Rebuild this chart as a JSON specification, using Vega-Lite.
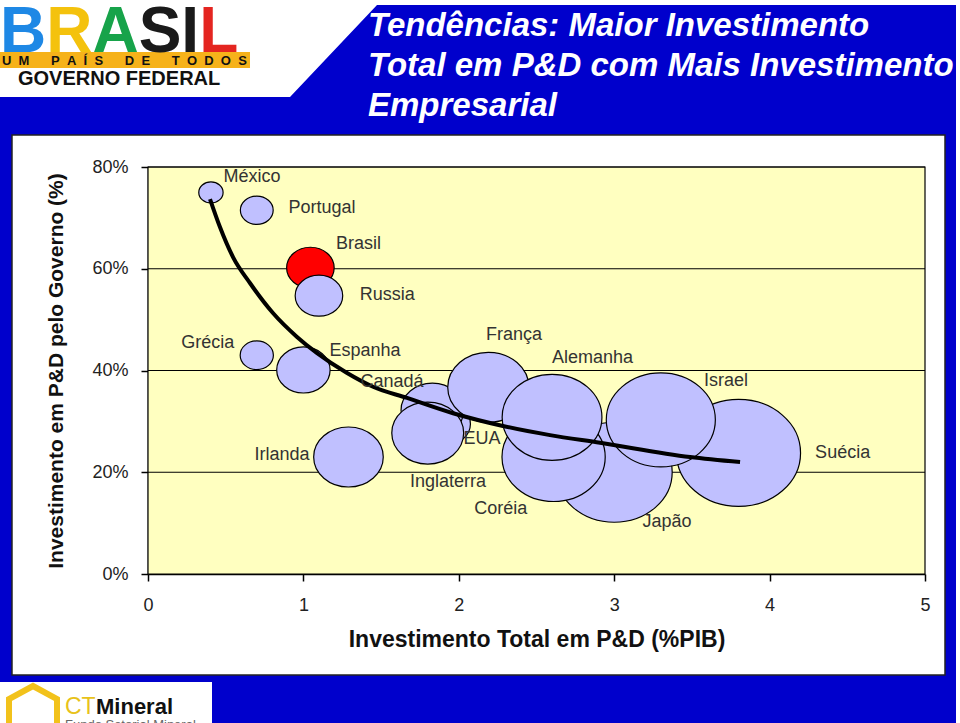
{
  "$schema": "https://vega.github.io/schema/vega-lite/v6.json",
  "width": 777,
  "height": 407,
  "autosize": {"type": "none"},
  "padding": {"left": 148, "top": 167, "right": 35, "bottom": 149},
  "background": "white",
  "title": {
    "text": ["Tendências: Maior Investimento", "Total em P&D com Mais Investimento", "Empresarial"],
    "anchor": "start",
    "frame": "group",
    "dx": 220,
    "offset": -148,
    "baseline": "alphabetic",
    "font": "Liberation Sans",
    "fontSize": 33,
    "fontWeight": "bold",
    "fontStyle": "italic",
    "color": "white",
    "lineHeight": 40
  },
  "config": {"view": {"stroke": null}, "font": "Liberation Sans"},
  "datasets": {
    "paises": [
      {"pais": "Japão", "pd_total": 3.0, "pd_gov": 20.0, "tamanho": 2500, "rot_x": 3.34, "rot_y": 10.3},
      {"pais": "Suécia", "pd_total": 3.8, "pd_gov": 23.8, "tamanho": 2860, "rot_x": 4.47, "rot_y": 23.7},
      {"pais": "Coréia", "pd_total": 2.61, "pd_gov": 23.0, "tamanho": 1980, "rot_x": 2.27, "rot_y": 12.8},
      {"pais": "Israel", "pd_total": 3.3, "pd_gov": 30.3, "tamanho": 2210, "rot_x": 3.72, "rot_y": 37.9},
      {"pais": "EUA", "pd_total": 1.92, "pd_gov": 29.5, "tamanho": 430, "rot_x": 2.15, "rot_y": 26.6},
      {"pais": "Canadá", "pd_total": 1.83, "pd_gov": 32.2, "tamanho": 730, "rot_x": 1.57, "rot_y": 37.7},
      {"pais": "França", "pd_total": 2.19, "pd_gov": 36.7, "tamanho": 1225, "rot_x": 2.355, "rot_y": 47.0},
      {"pais": "Alemanha", "pd_total": 2.6, "pd_gov": 30.8, "tamanho": 1850, "rot_x": 2.86, "rot_y": 42.5},
      {"pais": "Inglaterra", "pd_total": 1.8, "pd_gov": 27.7, "tamanho": 960, "rot_x": 1.93, "rot_y": 18.1},
      {"pais": "Irlanda", "pd_total": 1.29, "pd_gov": 23.0, "tamanho": 900, "rot_x": 0.862, "rot_y": 23.4},
      {"pais": "Espanha", "pd_total": 1.0, "pd_gov": 40.1, "tamanho": 530, "rot_x": 1.396, "rot_y": 43.8},
      {"pais": "Grécia", "pd_total": 0.7, "pd_gov": 43.0, "tamanho": 205, "rot_x": 0.385, "rot_y": 45.5},
      {"pais": "Brasil", "pd_total": 1.045, "pd_gov": 60.2, "tamanho": 420, "rot_x": 1.355, "rot_y": 64.9},
      {"pais": "Russia", "pd_total": 1.1, "pd_gov": 54.7, "tamanho": 420, "rot_x": 1.54, "rot_y": 54.8},
      {"pais": "Portugal", "pd_total": 0.7, "pd_gov": 71.5, "tamanho": 200, "rot_x": 1.12, "rot_y": 71.9},
      {"pais": "México", "pd_total": 0.405, "pd_gov": 75.0, "tamanho": 110, "rot_x": 0.67, "rot_y": 78.1}
    ],
    "tendencia": [
      {"x": 0.399, "y": 73.7}, {"x": 0.463, "y": 68.2}, {"x": 0.547, "y": 62.3}, {"x": 0.656, "y": 57.2},
      {"x": 0.804, "y": 51.3}, {"x": 0.959, "y": 46.6}, {"x": 1.088, "y": 43.4}, {"x": 1.281, "y": 39.5},
      {"x": 1.448, "y": 36.8}, {"x": 1.667, "y": 34.6}, {"x": 1.963, "y": 31.6}, {"x": 2.284, "y": 29.1},
      {"x": 2.587, "y": 27.3}, {"x": 2.909, "y": 25.8}, {"x": 3.488, "y": 23.0}, {"x": 3.81, "y": 22.0}
    ],
    "grade": [{"g": 20}, {"g": 40}, {"g": 60}, {"g": 80}]
  },
  "layer": [
    {
      "data": {"values": [{}]},
      "mark": {"type": "point", "shape": "M0,97L290,97L377,5L956,5L956,723L212,723L212,682L0,682Z M12,135L12,675L945,675L945,135Z", "size": 4, "filled": true, "fill": "#0000CC", "strokeWidth": 0, "opacity": 1},
      "encoding": {
        "x": {"datum": -0.95238, "type": "quantitative", "scale": {"domain": [0, 5], "nice": false, "zero": false}},
        "y": {"datum": 112.826, "type": "quantitative", "scale": {"domain": [0, 80], "nice": false, "zero": false}}
      }
    },
    {
      "data": {"values": [{}]},
      "mark": {"type": "rect", "fillOpacity": 0, "stroke": "#222", "strokeWidth": 1.5},
      "encoding": {
        "x": {"datum": -0.8752, "type": "quantitative"},
        "x2": {"datum": 5.1287},
        "y": {"datum": 86.29, "type": "quantitative"},
        "y2": {"datum": -19.853}
      }
    },
    {
      "data": {"values": [{}]},
      "mark": {"type": "rect", "fill": "#F6B21A"},
      "encoding": {
        "x": {"datum": -0.95238, "type": "quantitative"},
        "x2": {"datum": 0.6564},
        "y": {"datum": 102.6, "type": "quantitative"},
        "y2": {"datum": 99.46}
      }
    },
    {
      "data": {"values": [{}]},
      "mark": {
        "type": "text", "text": "BRASIL", "align": "left", "baseline": "alphabetic", "font": "Liberation Sans", "fontSize": 64, "fontWeight": "bold",
        "fill": {"gradient": "linear", "x1": 0, "y1": 0, "x2": 1, "y2": 0, "stops": [
          {"offset": 0, "color": "#1E88E5"}, {"offset": 0.19, "color": "#1E88E5"},
          {"offset": 0.19, "color": "#F4C20D"}, {"offset": 0.385, "color": "#F4C20D"},
          {"offset": 0.385, "color": "#17A34A"}, {"offset": 0.58, "color": "#17A34A"},
          {"offset": 0.58, "color": "#1A1A1A"}, {"offset": 0.84, "color": "#1A1A1A"},
          {"offset": 0.84, "color": "#E42520"}, {"offset": 1, "color": "#E42520"}]}
      },
      "encoding": {
        "x": {"datum": -0.95238, "type": "quantitative"},
        "y": {"datum": 102.6, "type": "quantitative"}
      }
    },
    {
      "data": {"values": [{}]},
      "mark": {"type": "text", "text": "U\u00a0\u00a0M\u00a0\u00a0\u00a0\u00a0\u00a0\u00a0P\u00a0\u00a0A\u00a0\u00a0Í\u00a0\u00a0S\u00a0\u00a0\u00a0\u00a0\u00a0\u00a0D\u00a0\u00a0E\u00a0\u00a0\u00a0\u00a0\u00a0\u00a0T\u00a0\u00a0O\u00a0\u00a0D\u00a0\u00a0O\u00a0\u00a0S", "align": "left", "baseline": "middle", "fontSize": 13, "fontWeight": "bold", "fill": "#111"},
      "encoding": {
        "x": {"datum": -0.9395, "type": "quantitative"},
        "y": {"datum": 100.8, "type": "quantitative"}
      }
    },
    {
      "data": {"values": [{}]},
      "mark": {"type": "text", "text": "GOVERNO FEDERAL", "align": "left", "baseline": "alphabetic", "fontSize": 20, "fontWeight": "bold", "fill": "#111"},
      "encoding": {
        "x": {"datum": -0.8366, "type": "quantitative"},
        "y": {"datum": 96.12, "type": "quantitative"}
      }
    },
    {
      "data": {"values": [{}]},
      "mark": {"type": "point", "shape": "M9,45L9,20L33,7L57,20L57,45", "size": 4, "filled": false, "stroke": "#F2C21B", "strokeWidth": 6, "opacity": 1},
      "encoding": {
        "x": {"datum": -0.95238, "type": "quantitative"},
        "y": {"datum": -20.64, "type": "quantitative"}
      }
    },
    {
      "data": {"values": [{}]},
      "mark": {"type": "text", "text": "CT", "align": "left", "baseline": "alphabetic", "fontSize": 23, "fill": "#E8C21A"},
      "encoding": {
        "x": {"datum": -0.5341, "type": "quantitative"},
        "y": {"datum": -27.52, "type": "quantitative"}
      }
    },
    {
      "data": {"values": [{}]},
      "mark": {"type": "text", "text": "Mineral", "align": "left", "baseline": "alphabetic", "fontSize": 22, "fontWeight": "bold", "fill": "#111"},
      "encoding": {
        "x": {"datum": -0.3346, "type": "quantitative"},
        "y": {"datum": -27.52, "type": "quantitative"}
      }
    },
    {
      "data": {"values": [{}]},
      "mark": {"type": "text", "text": "Fundo Setorial Mineral", "align": "left", "baseline": "top", "fontSize": 13, "fill": "#666"},
      "encoding": {
        "x": {"datum": -0.5341, "type": "quantitative"},
        "y": {"datum": -28.5, "type": "quantitative"}
      }
    },
    {
      "data": {"values": [{}]},
      "mark": {"type": "rect", "fill": "#FFFFC0", "stroke": "#000", "strokeWidth": 1.2},
      "encoding": {
        "x": {"datum": 0, "type": "quantitative"},
        "x2": {"datum": 5},
        "y": {"datum": 0, "type": "quantitative"},
        "y2": {"datum": 80}
      }
    },
    {
      "data": {"name": "grade"},
      "mark": {"type": "rule", "color": "#000", "strokeWidth": 1.2},
      "encoding": {
        "y": {"field": "g", "type": "quantitative"}
      }
    },
    {
      "data": {"name": "paises"},
      "mark": {"type": "point", "shape": "M-1.16,0A1.16,1,0,1,1,1.16,0A1.16,1,0,1,1,-1.16,0Z", "filled": true, "stroke": "#000", "strokeWidth": 1.2, "opacity": 1},
      "encoding": {
        "x": {
          "field": "pd_total", "type": "quantitative",
          "axis": {
            "title": "Investimento Total em P&D (%PIB)", "values": [0, 1, 2, 3, 4, 5], "format": "d", "grid": false,
            "domainColor": "#000", "domainWidth": 1.5, "tickColor": "#000", "tickSize": 7, "tickWidth": 1.5,
            "labelFont": "Liberation Sans", "labelFontSize": 18, "labelColor": "#222", "labelPadding": 15, "labelFlush": false,
            "titleFont": "Liberation Sans", "titleFontSize": 23, "titleFontWeight": "bold", "titleColor": "#111", "titlePadding": 14
          }
        },
        "y": {
          "field": "pd_gov", "type": "quantitative",
          "axis": {
            "title": "Investimento em P&D pelo Governo (%)", "values": [0, 20, 40, 60, 80], "labelExpr": "datum.value + '%'", "grid": false,
            "domainColor": "#000", "domainWidth": 1.5, "tickColor": "#000", "tickSize": 7, "tickWidth": 1.5,
            "labelFont": "Liberation Sans", "labelFontSize": 18, "labelColor": "#222", "labelPadding": 13, "labelFlush": false,
            "titleFont": "Liberation Sans", "titleFontSize": 21, "titleFontWeight": "bold", "titleColor": "#111", "titlePadding": 25
          }
        },
        "size": {"field": "tamanho", "type": "quantitative", "scale": {"domain": [0, 3000], "range": [0, 12000], "zero": true}, "legend": null},
        "fill": {"condition": {"test": "datum.pais === 'Brasil'", "value": "#FF0000"}, "value": "#C0C0FF"}
      }
    },
    {
      "data": {"name": "tendencia"},
      "mark": {"type": "line", "color": "#000", "strokeWidth": 4, "interpolate": "monotone"},
      "encoding": {
        "x": {"field": "x", "type": "quantitative"},
        "y": {"field": "y", "type": "quantitative"}
      }
    },
    {
      "data": {"name": "paises"},
      "mark": {"type": "text", "font": "Liberation Sans", "fontSize": 18, "fill": "#333", "align": "center", "baseline": "middle"},
      "encoding": {
        "x": {"field": "rot_x", "type": "quantitative"},
        "y": {"field": "rot_y", "type": "quantitative"},
        "text": {"field": "pais"}
      }
    }
  ]
}
